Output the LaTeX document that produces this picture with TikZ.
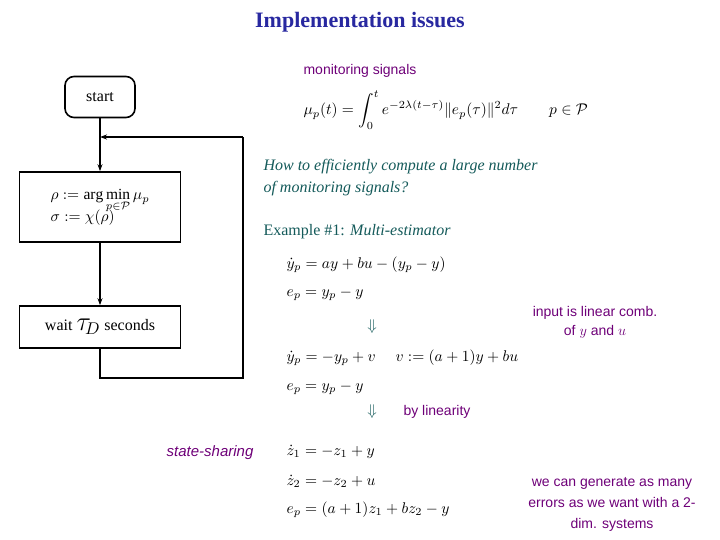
\documentclass[tikz,border=0pt]{standalone}
\usepackage{amsmath,amssymb,graphicx}
\usepackage{fontspec}
\setmainfont{Liberation Serif}
\setsansfont{Liberation Sans}
\usetikzlibrary{arrows.meta}
\definecolor{ttl}{RGB}{40,40,160}
\definecolor{pur}{RGB}{110,0,120}
\definecolor{teal}{RGB}{20,90,90}
\newcommand\eqbig[1]{\scalebox{1.55}{#1}}
\begin{document}
\begin{tikzpicture}[x=1pt,y=-1pt,
 box/.style={draw,line width=1.6pt,minimum width=161pt,align=left},
 arr/.style={line width=1.4pt,-{Stealth[length=7pt,width=5pt]}},
 ln/.style={line width=1.4pt},
 pl/.style={font=\sffamily\fontsize{14}{17}\selectfont,text=pur,align=center},
 eq/.style={anchor=west},
 tq/.style={anchor=west,text=teal,font=\fontsize{16}{22}\selectfont,align=left}]
\useasboundingbox (0,0) rectangle (720,540);
\node[font=\bfseries\fontsize{22}{26}\selectfont,text=ttl] (title) at (360,22) {Implementation issues};
\node[pl] (mon) at (360,71) {monitoring signals};
\node[draw,line width=1.6pt,rounded corners=9pt,minimum width=70pt,minimum height=41pt,font=\fontsize{16}{18}\selectfont] (start) at (100,97) {start};
\node[box,minimum height=70pt] (arg) at (100,207) {\eqbig{\begin{tabular}{@{}l@{}}$\rho:=\arg\min\limits_{p\in\mathcal P}\mu_p$\\[-3pt]$\sigma:=\chi(\rho)$\end{tabular}}};
\node[box,minimum height=42pt,align=center,font=\fontsize{16}{18}\selectfont] (wait) at (100,327) {wait \eqbig{$\tau_{\!D}$} seconds};
\coordinate (j) at (100,137);
\coordinate (b1) at (100,378);
\coordinate (b2) at (243,378);
\coordinate (b3) at (243,137);
\draw[ln] (start) -- (j);
\draw[arr] (j) -- (arg);
\draw[arr] (arg) -- (wait);
\draw[ln] (wait) -- (b1) -- (b2) -- (b3);
\draw[arr] (b3) -- (j);
\node[eq] (mu) at (300,110) {\eqbig{$\displaystyle\mu_p(t)=\int_0^t e^{-2\lambda(t-\tau)}\|e_p(\tau)\|^2d\tau\qquad p\in\mathcal P$}};
\node[tq,font=\itshape\fontsize{16}{22}\selectfont] (how) at (260,178) {How to efficiently compute a large number\\of monitoring signals?};
\node[tq] (ex) at (260,232) {Example \#1: \textit{Multi-estimator}};
\node[eq] (e1) at (283,265) {\eqbig{$\dot y_p=ay+bu-(y_p-y)$}};
\node[eq] (e2) at (283,294) {\eqbig{$e_p=y_p-y$}};
\node[text=teal] (d1) at (372,327) {\eqbig{$\Downarrow$}};
\node[eq] (e3) at (283,358) {\eqbig{$\dot y_p=-y_p+v\quad\; v:=(a+1)y+bu$}};
\node[eq] (e4) at (283,388) {\eqbig{$e_p=y_p-y$}};
\node[text=teal] (d2) at (372,412) {\eqbig{$\Downarrow$}};
\node[pl,anchor=west] (lin) at (400,412) {by linearity};
\node[pl] (inp) at (595,322) {input is linear comb.\\[2pt]of $y$ and $u$};
\node[eq] (e5) at (283,452) {\eqbig{$\dot z_1=-z_1+y$}};
\node[eq] (e6) at (283,481) {\eqbig{$\dot z_2=-z_2+u$}};
\node[eq] (e7) at (283,510) {\eqbig{$e_p=(a+1)z_1+bz_2-y$}};
\node[pl,font=\sffamily\itshape\fontsize{15}{17}\selectfont] (ss) at (210,453) {state-sharing};
\node[pl,font=\sffamily\fontsize{14}{21}\selectfont] (gen) at (612,504) {we can generate as many\\errors as we want with a 2-\\dim. systems};
\end{tikzpicture}
\end{document}
